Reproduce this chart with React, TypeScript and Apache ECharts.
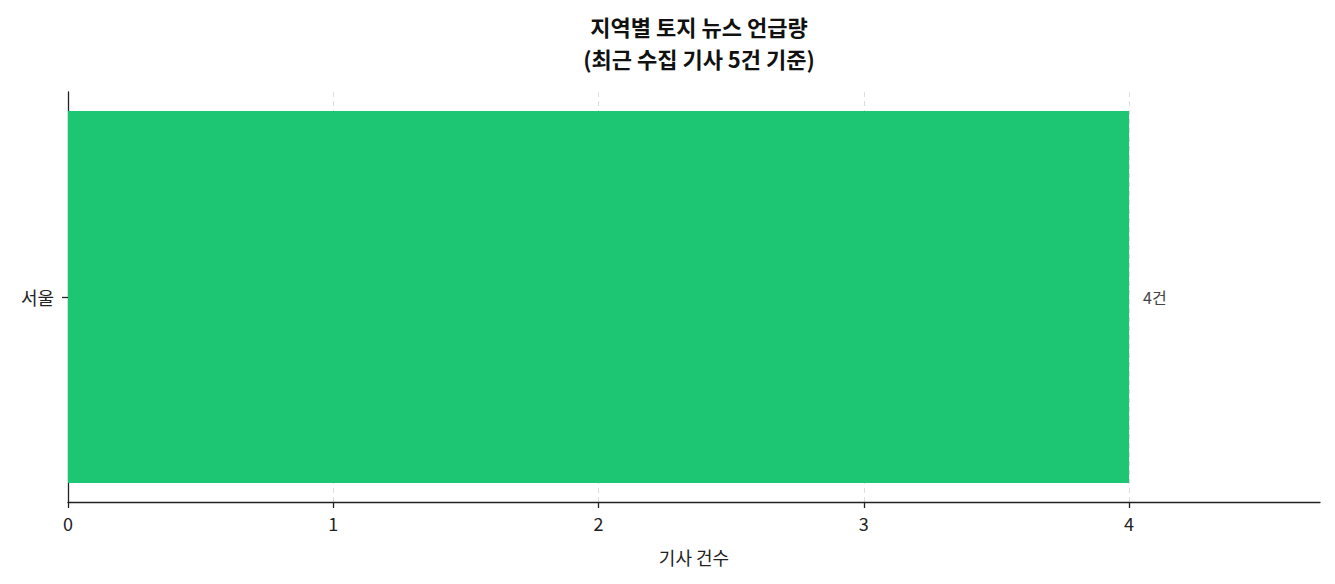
import { useEffect, useRef } from "react";
import * as echarts from "echarts";

const regions = ["서울"];
const counts = [4];
const xTicks = [0, 1, 2, 3, 4];
const xMax = 4.72;
const titleText = "지역별 토지 뉴스 언급량\n(최근 수집 기사 5건 기준)";
const xAxisName = "기사 건수";

const FONT = "'Noto Sans CJK KR', 'Noto Sans', sans-serif";

export default function App() {
  const chartRef = useRef<HTMLDivElement>(null);

  useEffect(() => {
    if (!chartRef.current) return;
    const chart = echarts.init(chartRef.current, undefined, { renderer: "svg" });

    chart.setOption({
      animation: false,
      textStyle: { fontFamily: FONT },
      title: {
        text: titleText,
        left: 694,
        textAlign: "center",
        top: 5,
        textStyle: {
          fontFamily: FONT,
          fontSize: 22,
          fontWeight: "bold",
          color: "#111",
          lineHeight: 32,
        },
      },
      grid: { left: 68, right: 15, top: 92, bottom: 82 },
      xAxis: {
        type: "value",
        min: 0,
        max: xMax,
        interval: 1,
        name: xAxisName,
        nameLocation: "middle",
        nameGap: 46,
        nameTextStyle: { fontFamily: FONT, fontSize: 18, color: "#222" },
        axisLine: { show: true, lineStyle: { color: "#222", width: 1.3 } },
        axisTick: { show: true, length: 6, lineStyle: { color: "#222", width: 1.3 } },
        axisLabel: {
          fontFamily: FONT,
          fontSize: 18,
          color: "#222",
          margin: 12,
          formatter: (v: number) => (xTicks.includes(v) ? String(v) : ""),
          showMaxLabel: false,
        },
        splitLine: {
          show: true,
          showMaxLine: false,
          lineStyle: { color: "#ddd", type: [5, 4], width: 1 },
        },
      },
      yAxis: {
        type: "category",
        data: regions,
        axisLine: { show: true, lineStyle: { color: "#222", width: 1.3 } },
        axisTick: { show: true, length: 6, alignWithLabel: true, lineStyle: { color: "#222", width: 1.3 } },
        axisLabel: { fontFamily: FONT, fontSize: 18, color: "#222", margin: 14 },
        splitLine: { show: false },
      },
      series: [
        {
          type: "bar",
          data: counts,
          barWidth: "90.7%",
          itemStyle: { color: "#1dc672" },
          label: {
            show: true,
            position: "right",
            distance: 14,
            formatter: (p: any) => `${p.value}건`,
            fontFamily: FONT,
            fontSize: 16,
            color: "#444",
          },
          emphasis: { disabled: true },
        },
      ],
    });

    return () => chart.dispose();
  }, []);

  return <div ref={chartRef} style={{ width: 1335, height: 584, margin: -8 }} />;
}
